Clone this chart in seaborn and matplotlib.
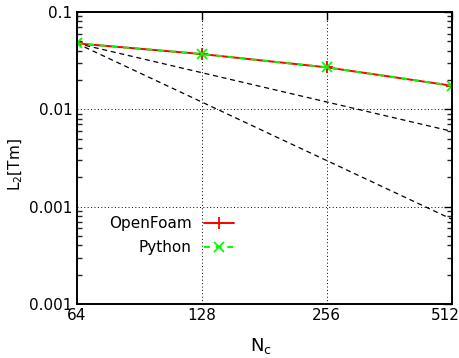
import matplotlib
matplotlib.use("Agg")
import matplotlib.pyplot as plt
from matplotlib.ticker import FixedLocator, FixedFormatter, NullFormatter, NullLocator
from matplotlib.transforms import ScaledTranslation
import numpy as np
import pandas as pd
import seaborn as sns

# ---- data ----
n_cells = [64, 128, 256, 512]
openfoam_err = [0.0476, 0.0370, 0.0270, 0.0175]
python_err = [0.0476, 0.0370, 0.0270, 0.0175]
ref_x = [64, 512]
ref_first_order = [0.0476, 0.00595]
ref_second_order = [0.0476, 0.000744]
x_ticks = [64, 128, 256, 512]
x_tick_labels = ["64", "128", "256", "512"]
y_ticks = [1e-4, 1e-3, 1e-2, 1e-1]
y_tick_labels = ["0.001", "0.001", "0.01", "0.1"]

sns.set_theme(style="white")
plt.rcParams["font.family"] = ["DejaVu Sans Condensed", "DejaVu Sans"]
plt.rcParams["mathtext.fontset"] = "custom"
plt.rcParams["mathtext.rm"] = "DejaVu Sans Condensed"
plt.rcParams["mathtext.it"] = "DejaVu Sans Condensed"
plt.rcParams["text.color"] = "black"

fig = plt.figure(figsize=(4.6, 3.58), dpi=100)
ax = fig.add_axes([76.7 / 460, 54 / 358, 375 / 460, 292 / 358])

df_ref1 = pd.DataFrame({"N": ref_x, "err": ref_first_order})
df_ref2 = pd.DataFrame({"N": ref_x, "err": ref_second_order})
sns.lineplot(data=df_ref1, x="N", y="err", ax=ax, color="black", lw=0.9,
             linestyle=(0, (4, 3)), legend=False)
sns.lineplot(data=df_ref2, x="N", y="err", ax=ax, color="black", lw=0.9,
             linestyle=(0, (4, 3)), legend=False)

df_of = pd.DataFrame({"N": n_cells, "err": openfoam_err})
df_py = pd.DataFrame({"N": n_cells, "err": python_err})
sns.lineplot(data=df_of, x="N", y="err", ax=ax, color="#ff0000", lw=1.4,
             marker="+", markersize=8.5, markeredgewidth=1.3,
             markeredgecolor="#ff0000", label="OpenFoam")
sns.lineplot(data=df_py, x="N", y="err", ax=ax, color="#00ff00", lw=1.4,
             linestyle=(0, (3, 3)), marker="x", markersize=6.5, markeredgewidth=1.3,
             markeredgecolor="#00ff00", label="Python")

ax.set_xscale("log", base=2)
ax.set_yscale("log")
ax.set_xlim(64, 512)
ax.set_ylim(1e-4, 1e-1)

ax.xaxis.set_major_locator(FixedLocator(x_ticks))
ax.xaxis.set_major_formatter(FixedFormatter(x_tick_labels))
ax.xaxis.set_minor_locator(NullLocator())
ax.yaxis.set_major_locator(FixedLocator(y_ticks))
ax.yaxis.set_major_formatter(FixedFormatter(y_tick_labels))
minors = [m * 10.0 ** e for e in (-4, -3, -2) for m in range(2, 10)]
ax.yaxis.set_minor_locator(FixedLocator(minors))
ax.yaxis.set_minor_formatter(NullFormatter())

ax.tick_params(which="major", direction="in", length=6, width=1.0,
               top=True, right=True, labelsize=11, colors="black", pad=3)
ax.tick_params(which="minor", direction="in", length=3.5, width=1.0,
               left=True, right=True, top=False, bottom=False)
ax.tick_params(axis="x", which="major", pad=3)

fig.canvas.draw()
last = ax.get_xticklabels()[-1]
last.set_transform(last.get_transform() + ScaledTranslation(-6 / 100, 0, fig.dpi_scale_trans))

ax.grid(True, which="major", color="black", linestyle=(0, (1, 2.5)), lw=0.7)
for s in ax.spines.values():
    s.set_color("black")
    s.set_linewidth(1.4)

ax.set_xlabel("N$_\\mathrm{c}$", fontsize=13, color="black")
ax.xaxis.set_label_coords(0.49, -0.11)
ax.xaxis.label.set_va("top")
ax.set_ylabel("L$_2$[Tm]", fontsize=11, color="black")
ax.yaxis.set_label_coords(-0.138, 0.476)

leg = ax.legend(loc="upper left", bbox_to_anchor=(0.065, 0.328), frameon=False,
                markerfirst=False, fontsize=11, handlelength=2.0,
                handletextpad=0.8, labelspacing=0.6, borderpad=0)
for t in leg.get_texts():
    t.set_color("black")

fig.savefig("out.png", dpi=100)
